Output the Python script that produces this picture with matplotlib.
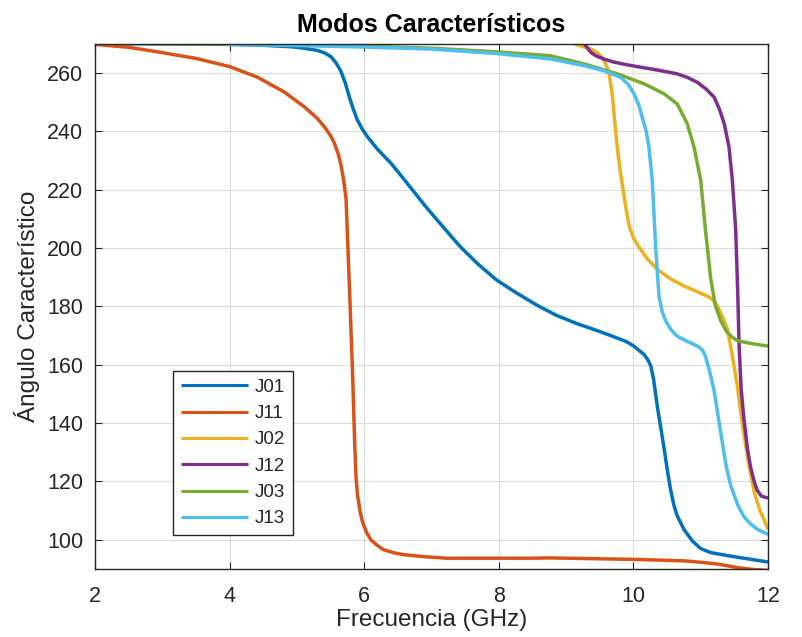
import matplotlib
matplotlib.use("Agg")
import matplotlib.pyplot as plt

plt.rcParams['font.family'] = ['Liberation Sans', 'DejaVu Sans']

labels = ["J01", "J11", "J02", "J12", "J03", "J13"]
colors = ["#0072BD", "#D95319", "#EDB120", "#7E2F8E", "#77AC30", "#4DBEEE"]

j01_x = [2, 3, 4, 4.5, 4.91, 5.1, 5.31, 5.42, 5.51, 5.58, 5.65, 5.72, 5.78, 5.84, 5.9, 5.97, 6.05,
         6.2, 6.4, 6.59, 6.8, 6.94, 7.2, 7.43, 7.7, 7.97, 8.25, 8.56, 8.85, 9.15, 9.4, 9.64, 9.89,
         10.0, 10.08, 10.16, 10.22, 10.26, 10.3, 10.33, 10.36, 10.41, 10.46, 10.5, 10.55, 10.6,
         10.65, 10.75, 10.88, 11.0, 11.15, 11.3, 11.5, 11.75, 12]
j01_y = [270, 270, 269.8, 269.5, 269, 268.5, 267.7, 266.8, 265.5, 263.5, 260.8, 256.5, 251.7, 247.5,
         243.8, 240.8, 238.1, 233.8, 229, 223.6, 217.5, 213.5, 206.5, 200.4, 194.3, 189, 184.8,
         180.5, 177, 174.2, 172.2, 170.2, 168, 166.5, 165, 163.5, 161.5, 159.5, 155, 150, 145, 138,
         130.7, 124.5, 117.5, 112, 108.3, 103.6, 99.5, 97, 95.6, 95, 94.2, 93.3, 92.4]

j11_x = [2, 2.5, 2.94, 3.5, 4.0, 4.42, 4.81, 5.11, 5.3, 5.41, 5.5, 5.56, 5.61, 5.65, 5.69, 5.73,
         5.76, 5.79, 5.83, 5.86, 5.88, 5.9, 5.94, 5.98, 6.04, 6.1, 6.2, 6.29, 6.45, 6.59, 6.9, 7.23,
         8.46, 8.77, 9.5, 10.0, 10.75, 11.0, 11.25, 11.4, 11.54, 11.75, 12]
j11_y = [269.8, 268.8, 267.2, 265, 262.2, 258.5, 253.5, 248.4, 244.5, 241.5, 238.5, 235.8, 232.5,
         229, 224, 217, 199, 181, 155, 132, 121, 115.5, 109.5, 105.7, 102.3, 100, 98, 96.6, 95.5,
         94.9, 94.2, 93.7, 93.7, 93.8, 93.5, 93.3, 92.8, 92.3, 91.7, 91.1, 90.5, 89.9, 89.5]

j02_x = [9.0, 9.12, 9.25, 9.37, 9.46, 9.54, 9.6, 9.64, 9.69, 9.72, 9.76, 9.8, 9.84, 9.89, 9.94,
         10.0, 10.08, 10.2, 10.36, 10.55, 10.75, 10.95, 11.1, 11.18, 11.25, 11.32, 11.4, 11.47,
         11.54, 11.6, 11.64, 11.7, 11.74, 11.8, 11.88, 11.94, 12]
j02_y = [272, 270, 269, 268.2, 267, 265.3, 262.5, 259.7, 251.7, 244, 234.7, 227, 221, 213.5, 207.3,
         203.5, 200.4, 196.5, 192.6, 189.5, 187, 185, 183.5, 182.3, 180, 176.5, 172, 163, 153.4, 143,
         136.4, 128, 122.8, 116, 110, 107, 103.6]

j12_x = [9.1, 9.27, 9.32, 9.37, 9.45, 9.56, 9.7, 9.86, 10.05, 10.26, 10.45, 10.65, 10.8, 10.95,
         11.08, 11.2, 11.28, 11.35, 11.42, 11.47, 11.52, 11.55, 11.57, 11.6, 11.64, 11.69, 11.74,
         11.8, 11.84, 11.9, 12]
j12_y = [273, 270, 268.5, 267, 265.8, 264.8, 263.8, 263, 262.2, 261.4, 260.6, 259.7, 258.5, 256.8,
         254.5, 251.7, 247.5, 242.6, 234.7, 223.3, 206.3, 185, 167, 152, 142, 132, 125, 119.5, 117,
         115, 114.3]

j03_x = [2, 2.7, 2.8, 4, 5, 6, 7, 8, 8.77, 9.27, 9.76, 10.16, 10.46, 10.65, 10.8, 10.9, 11.0,
         11.07, 11.15, 11.22, 11.3, 11.38, 11.46, 11.54, 11.7, 11.85, 12]
j03_y = [272, 272, 270, 269.9, 269.6, 269.2, 268.5, 267.2, 265.9, 263.1, 259.7, 256.3, 252.8,
         249.4, 242.6, 234.7, 223.3, 206.3, 189.2, 180.1, 175, 171.5, 169.6, 168.3, 167.5, 166.9,
         166.4]

j13_x = [2, 3.9, 4, 5, 6, 7, 8, 8.77, 9.27, 9.56, 9.81, 9.92, 10.01, 10.08, 10.13, 10.19, 10.23,
         10.28, 10.33, 10.38, 10.43, 10.48, 10.56, 10.65, 10.8, 10.95, 11.02, 11.07, 11.13, 11.2,
         11.3, 11.38, 11.45, 11.55, 11.64, 11.74, 11.84, 12]
j13_y = [272, 272, 269.8, 269.4, 268.9, 268.2, 266.6, 264.8, 262.5, 260.8, 258.5, 256.2, 252.8,
         249, 244.9, 240, 234.7, 223.3, 200.6, 183.5, 178, 175, 172, 169.8, 168, 166.4, 165.2, 163,
         158, 151, 136.4, 125, 118.3, 112, 108, 105.5, 103.6, 101.9]

series_x = [j01_x, j11_x, j02_x, j12_x, j03_x, j13_x]
series_y = [j01_y, j11_y, j02_y, j12_y, j03_y, j13_y]

x_ticks = [2, 4, 6, 8, 10, 12]
y_ticks = [100, 120, 140, 160, 180, 200, 220, 240, 260]

fig = plt.figure(figsize=(8.03, 6.37), dpi=100)
ax = fig.add_axes([95/803, 68/637, 673/803, 525.2/637])

for xs, ys, lab, c in zip(series_x, series_y, labels, colors):
    ax.plot(xs, ys, color=c, lw=2.5, label=lab, solid_capstyle='butt', solid_joinstyle='round')

ax.set_xlim(2, 12)
ax.set_ylim(90, 270)
ax.set_xticks(x_ticks)
ax.set_yticks(y_ticks)
ax.grid(True, color='#dcdcdc', lw=0.8)
ax.set_axisbelow(True)
for s in ax.spines.values():
    s.set_color('#262626')
    s.set_linewidth(1.0)
ax.tick_params(direction='in', top=True, right=True, length=5, width=0.8,
               colors='#262626', labelsize=15.5)
ax.tick_params(axis='x', pad=12.5)
ax.tick_params(axis='y', pad=8.4)

ax.set_title("Modos Característicos", fontsize=18, fontweight='bold', color='black', pad=8.5)
ax.set_xlabel("Frecuencia (GHz)", fontsize=17.5, color='#262626', labelpad=1.5)
ax.set_ylabel("Ángulo Característico", fontsize=17.5, color='#262626', labelpad=5)

leg = ax.legend(loc='upper left', bbox_to_anchor=(0.1155, 0.3776), borderaxespad=0,
                fontsize=13.5, handlelength=3.57, labelspacing=0.49, handletextpad=0.37,
                fancybox=False, framealpha=1, edgecolor='#262626', borderpad=0.43)
leg.get_frame().set_linewidth(1.0)
for line in leg.get_lines():
    line.set_linewidth(2.2)
for t in leg.get_texts():
    t.set_color('#262626')

fig.savefig("out.png", dpi=100)
